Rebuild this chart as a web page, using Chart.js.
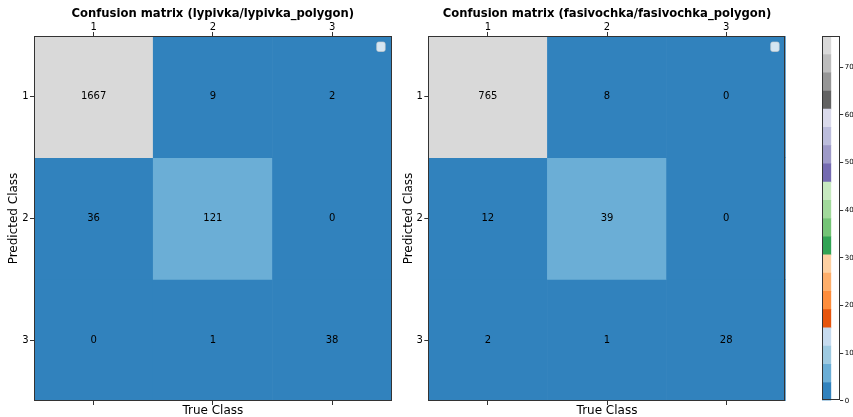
<!DOCTYPE html>
<html>
<head>
<meta charset="utf-8">
<script src="https://cdn.jsdelivr.net/npm/chart.js@4/dist/chart.umd.min.js"></script>
<style>
  html, body { margin: 0; padding: 0; background: #ffffff; }
  #wrap { position: relative; width: 853px; height: 417px; }
  #wrap canvas { position: absolute; left: 0; top: 0; }
</style>
</head>
<body>
<div id="wrap">
  <canvas id="c1" width="853" height="417"></canvas>
  <canvas id="c2" width="853" height="417"></canvas>
  <canvas id="cb" width="853" height="417"></canvas>
</div>
<script>
// ---------------- data ----------------
const classLabels = ['1', '2', '3'];           // true class (x) and predicted class (y)
const rowValues = [1, 2, 3];                    // predicted class positions
const titleLeft = 'Confusion matrix (lypivka/lypivka_polygon)';
const titleRight = 'Confusion matrix (fasivochka/fasivochka_polygon)';
const xAxisTitle = 'True Class';
const yAxisTitle = 'Predicted Class';

// rows = predicted class, columns = true class
const lypivkaRow1 = [1667, 9, 2];
const lypivkaRow2 = [36, 121, 0];
const lypivkaRow3 = [0, 1, 38];

const fasivochkaRow1 = [765, 8, 0];
const fasivochkaRow2 = [12, 39, 0];
const fasivochkaRow3 = [2, 1, 28];

// tab20c colormap
const tab20c = ['#3182bd', '#6baed6', '#9ecae1', '#c6dbef', '#e6550d', '#fd8d3c', '#fdae6b', '#fdd0a2',
                '#31a354', '#74c476', '#a1d99b', '#c7e9c0', '#756bb1', '#9e9ac8', '#bcbddc', '#dadaeb',
                '#636363', '#969696', '#bdbdbd', '#d9d9d9'];
const colorbarMax = 76.5;
const colorbarTicks = [0, 10, 20, 30, 40, 50, 60, 70];

// ---------------- helpers ----------------
Chart.defaults.font.family = 'DejaVu Sans';
Chart.defaults.color = '#000';
const SPINE = '#333333';

function colorFor(v, lo, hi) {
  let i = Math.floor((v - lo) / (hi - lo) * tab20c.length);
  if (i < 0) i = 0;
  if (i > tab20c.length - 1) i = tab20c.length - 1;
  return tab20c[i];
}

const framePlugin = {
  id: 'frame',
  afterDatasetsDraw(chart) {
    const a = chart.chartArea, ctx = chart.ctx;
    ctx.save();
    ctx.strokeStyle = SPINE;
    ctx.lineWidth = 1;
    ctx.strokeRect(Math.round(a.left) + 0.5, Math.round(a.top) + 0.5,
                   Math.round(a.right - a.left) - 1, Math.round(a.bottom - a.top) - 1);
    ctx.restore();
  }
};

const cellTextPlugin = {
  id: 'cellText',
  afterDatasetsDraw(chart) {
    const ctx = chart.ctx;
    ctx.save();
    ctx.font = '10px "DejaVu Sans"';
    ctx.fillStyle = '#000';
    ctx.textAlign = 'center';
    ctx.textBaseline = 'middle';
    chart.data.datasets.forEach((ds, di) => {
      const meta = chart.getDatasetMeta(di);
      meta.data.forEach((el, i) => {
        const y = (el.y + el.base) / 2;
        ctx.fillText(String(ds.counts[i]), el.x, y);
      });
    });
    // empty legend frame (top right)
    const a = chart.chartArea;
    const w = 8.5, h = 9.5, x = a.right - 15, yy = a.top + 6, r = 2;
    ctx.beginPath();
    ctx.roundRect(x, yy, w, h, r);
    ctx.fillStyle = 'rgba(255,255,255,0.8)';
    ctx.fill();
    ctx.strokeStyle = 'rgba(204,204,204,0.8)';
    ctx.lineWidth = 0.8;
    ctx.stroke();
    ctx.restore();
  }
};

function makeMatrixChart(canvasId, rows, title, padLeft, padRight) {
  const all = rows.flat();
  const lo = Math.min(...all), hi = Math.max(...all);
  const datasets = rows.map((row, ri) => ({
    data: row.map(() => [rowValues[ri] - 0.5, rowValues[ri] + 0.5]),
    counts: row,
    backgroundColor: row.map(v => colorFor(v, lo, hi)),
    borderWidth: 0,
    grouped: false,
    categoryPercentage: 1.0,
    barPercentage: 1.0,
    xAxisID: 'x',
    yAxisID: 'y'
  }));
  return new Chart(document.getElementById(canvasId), {
    type: 'bar',
    data: { labels: classLabels, datasets },
    options: {
      responsive: false,
      animation: false,
      events: [],
      layout: { padding: { left: padLeft, right: padRight, top: 0, bottom: 0 } },
      plugins: { legend: { display: false }, tooltip: { enabled: false } },
      scales: {
        x: {
          type: 'category',
          position: 'top',
          offset: true,
          grid: { display: true, drawOnChartArea: false, drawTicks: true, tickLength: 4, color: SPINE, offset: false },
          border: { display: false },
          ticks: { font: { size: 10 }, color: '#000', padding: -1, maxRotation: 0 },
          title: { display: true, text: title, font: { size: 11.6, weight: 'bold' }, color: '#000', padding: { top: 7, bottom: 0 } },
          afterFit(s) { s.height = 36; }
        },
        x2: {
          type: 'category',
          position: 'bottom',
          offset: true,
          labels: classLabels,
          grid: { display: true, drawOnChartArea: false, drawTicks: true, tickLength: 4, color: SPINE, offset: false },
          border: { display: false },
          ticks: { display: true, callback: () => '', font: { size: 1 } },
          title: { display: true, text: xAxisTitle, font: { size: 12 }, color: '#000', padding: { top: 0, bottom: -1.5 } },
          afterFit(s) { s.height = 16; }
        },
        y: {
          type: 'linear',
          position: 'left',
          reverse: true,
          min: 0.5,
          max: 3.5,
          grid: { display: true, drawOnChartArea: false, drawTicks: true, tickLength: 4, color: SPINE },
          border: { display: false },
          ticks: { font: { size: 10 }, color: '#000', padding: 1.5 },
          afterBuildTicks(s) { s.ticks = rowValues.map(v => ({ value: v })); },
          title: { display: true, text: yAxisTitle, font: { size: 12 }, color: '#000', padding: { top: 7, bottom: 0 } },
          afterFit(s) { s.width = 34; }
        }
      }
    },
    plugins: [framePlugin, cellTextPlugin]
  });
}

makeMatrixChart('c1', [lypivkaRow1, lypivkaRow2, lypivkaRow3], titleLeft, 0, 461.3);
makeMatrixChart('c2', [fasivochkaRow1, fasivochkaRow2, fasivochkaRow3], titleRight, 394.3, 67.3);

// ---------------- colorbar ----------------
const segSize = colorbarMax / tab20c.length;
const cbDatasets = tab20c.map((c, i) => ({
  data: [[i * segSize, (i + 1) * segSize]],
  backgroundColor: c,
  borderWidth: 0,
  grouped: false,
  categoryPercentage: 1.0,
  barPercentage: 1.0
}));
new Chart(document.getElementById('cb'), {
  type: 'bar',
  data: { labels: [''], datasets: cbDatasets },
  options: {
    responsive: false,
    animation: false,
    events: [],
    layout: { padding: { left: 822, right: 0, top: 36.3, bottom: 16.3 } },
    plugins: { legend: { display: false }, tooltip: { enabled: false } },
    scales: {
      x: { display: false, offset: false },
      y: {
        type: 'linear',
        position: 'right',
        min: 0,
        max: colorbarMax,
        grid: { display: true, drawOnChartArea: false, drawTicks: true, tickLength: 3.5, color: SPINE },
        border: { display: false },
        ticks: { font: { size: 7 }, color: '#000', padding: 1.5 },
        afterBuildTicks(s) { s.ticks = colorbarTicks.map(v => ({ value: v })); },
        afterFit(s) { s.width = 13.3; }
      }
    }
  },
  plugins: [framePlugin]
});
</script>
</body>
</html>
